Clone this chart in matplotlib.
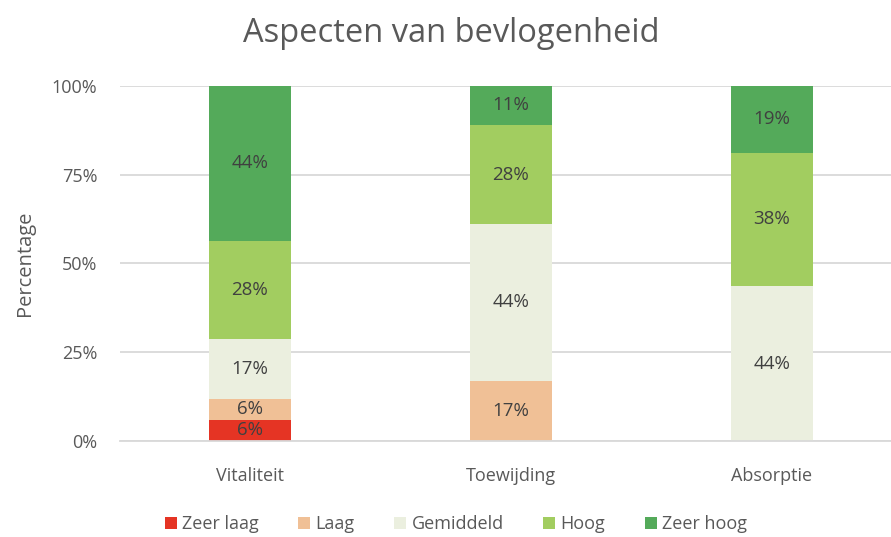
import matplotlib.pyplot as plt
import numpy as np

plt.rcParams['font.family'] = ['Open Sans', 'DejaVu Sans']

# data: percentages as shown on the labels (100% stacked)
categories = ['Vitaliteit', 'Toewijding', 'Absorptie']
levels = ['Zeer laag', 'Laag', 'Gemiddeld', 'Hoog', 'Zeer hoog']
zeer_laag = [6, 0, 0]
laag = [6, 17, 0]
gemiddeld = [17, 44, 44]
hoog = [28, 28, 38]
zeer_hoog = [44, 11, 19]
series = [zeer_laag, laag, gemiddeld, hoog, zeer_hoog]
colors = ['#E53424', '#F0C096', '#EBEFDF', '#A2CD60', '#54AA5A']

totals = np.sum(series, axis=0)

fig = plt.figure(figsize=(8.91, 5.37), dpi=100)
ax = fig.add_axes([119.5 / 891, 0.179, 1 - 119.5 / 891, 0.661])

x = np.arange(len(categories))
bottom = np.zeros(len(categories))
for name, vals, col in zip(levels, series, colors):
    vals = np.array(vals)
    share = vals / totals * 100
    bars = ax.bar(x, share, 0.314, bottom=bottom, color=col, label=name, zorder=3)
    labels = ['%d%%' % v if v > 0 else '' for v in vals]
    ax.bar_label(bars, labels=labels, label_type='center', fontsize=13.5, color='#404040')
    bottom += share

ax.set_xlim(-0.5, 2.456)
ax.set_ylim(0, 100)
ax.set_yticks([0, 25, 50, 75, 100])
ax.set_yticklabels(['0%', '25%', '50%', '75%', '100%'])
ax.set_xticks(x)
ax.set_xticklabels(categories)
ax.tick_params(length=0, labelsize=13, colors='#595959')
ax.tick_params(axis='y', pad=16)
ax.tick_params(axis='x', pad=19)
ax.grid(axis='y', color='#D9D9D9', linewidth=1.3, zorder=0)
for s in ['top', 'right', 'left']:
    ax.spines[s].set_visible(False)
ax.spines['bottom'].set_color('#D9D9D9')
ax.spines['bottom'].set_linewidth(1.3)
ax.spines['bottom'].set_zorder(4)

ax.set_ylabel('Percentage', fontsize=14.5, color='#595959', labelpad=12)
fig.text(451 / 891, 1 - 34 / 537, 'Aspecten van bevlogenheid', ha='center', va='center',
         fontsize=23.5, color='#595959')

fig.legend(loc='center', bbox_to_anchor=(456 / 891, 1 - 524 / 537), ncol=5, frameon=False,
           fontsize=13, handlelength=0.65, handleheight=0.65, handletextpad=0.3,
           columnspacing=2.2, labelcolor='#595959')

fig.savefig('out.png', dpi=100)
